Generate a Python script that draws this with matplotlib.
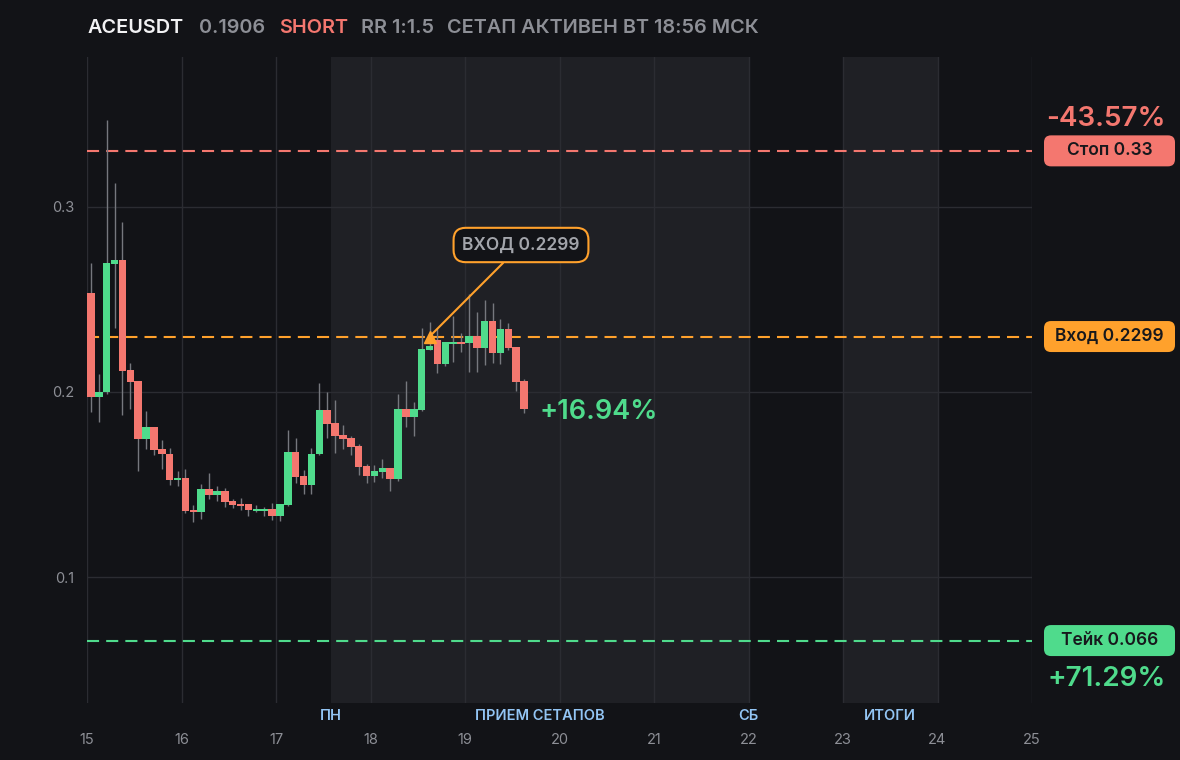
from __future__ import annotations

import matplotlib

matplotlib.use("Agg")
import matplotlib.pyplot as plt
from matplotlib.patches import FancyBboxPatch
from matplotlib.transforms import IdentityTransform, blended_transform_factory

W, H = 1180, 760

BG = "#121317"
PANEL = "#1f2025"
GRID = "#2b2c32"
RED = "#f4776f"
GREEN = "#4fdb8c"
ORANGE = "#ffa12c"
MUTED = "#8d8f96"
WICK = "#76787e"
TITLE_WHITE = "#f2f2f4"
LABEL_BLUE = "#93c5f4"
TAG_TEXT = "#17181c"

FONT = ["Inter", "DejaVu Sans"]

# 2h candles, first one opens on day 15 00:00
START_DAY = 15
CANDLE_DAYS = 2 / 24

opens = [
    0.2534, 0.1975, 0.2000, 0.2690, 0.2712, 0.2119, 0.2059, 0.1748, 0.1811, 0.1693,
    0.1668, 0.1526, 0.1536, 0.1362, 0.1355, 0.1479, 0.1446, 0.1468, 0.1414, 0.1398,
    0.1398, 0.1360, 0.1360, 0.1371, 0.1333, 0.1392, 0.1677, 0.1546, 0.1500, 0.1666,
    0.1903, 0.1833, 0.1768, 0.1752, 0.1709, 0.1601, 0.1547, 0.1569, 0.1590, 0.1531,
    0.1908, 0.1865, 0.1903, 0.2226, 0.2280, 0.2151, 0.2259, 0.2270, 0.2264, 0.2302,
    0.2237, 0.2383, 0.2210, 0.2340, 0.2243, 0.2059,
]
highs = [
    0.2695, 0.2097, 0.3466, 0.3127, 0.2916, 0.2156, 0.2059, 0.1898, 0.1811, 0.1741,
    0.1698, 0.1576, 0.1585, 0.1392, 0.1504, 0.1565, 0.1495, 0.1484, 0.1425, 0.1430,
    0.1398, 0.1392, 0.1382, 0.1403, 0.1398, 0.1795, 0.1752, 0.1580, 0.1698, 0.2049,
    0.2000, 0.1957, 0.1822, 0.1763, 0.1720, 0.1612, 0.1606, 0.1639, 0.1590, 0.1989,
    0.2059, 0.1946, 0.2345, 0.2377, 0.2345, 0.2270, 0.2410, 0.2318, 0.2528, 0.2431,
    0.2496, 0.2480, 0.2394, 0.2372, 0.2243, 0.2070,
]
lows = [
    0.1890, 0.1838, 0.1990, 0.2345, 0.1878, 0.1910, 0.1576, 0.1694, 0.1662, 0.1587,
    0.1500, 0.1495, 0.1349, 0.1301, 0.1317, 0.1425, 0.1414, 0.1382, 0.1376, 0.1366,
    0.1333, 0.1355, 0.1333, 0.1312, 0.1306, 0.1387, 0.1511, 0.1452, 0.1452, 0.1660,
    0.1752, 0.1671, 0.1693, 0.1660, 0.1553, 0.1510, 0.1515, 0.1536, 0.1466, 0.1520,
    0.1811, 0.1763, 0.1900, 0.2226, 0.2102, 0.2140, 0.2162, 0.2216, 0.2108, 0.2108,
    0.2146, 0.2156, 0.2150, 0.2226, 0.2005, 0.1887,
]
closes = [
    0.1975, 0.2000, 0.2695, 0.2712, 0.2115, 0.2054, 0.1748, 0.1811, 0.1689, 0.1667,
    0.1527, 0.1536, 0.1360, 0.1351, 0.1479, 0.1446, 0.1468, 0.1409, 0.1392, 0.1387,
    0.1366, 0.1371, 0.1371, 0.1333, 0.1398, 0.1677, 0.1543, 0.1500, 0.1666, 0.1903,
    0.1827, 0.1763, 0.1747, 0.1704, 0.1596, 0.1547, 0.1574, 0.1590, 0.1531, 0.1908,
    0.1865, 0.1908, 0.2232, 0.2248, 0.2151, 0.2270, 0.2270, 0.2259, 0.2302, 0.2237,
    0.2383, 0.2210, 0.2340, 0.2237, 0.2054, 0.1906,
]

SYMBOL = "ACEUSDT"
LAST_PRICE = "0.1906"
SIDE = "SHORT"
RR_TEXT = "RR 1:1.5"
STATUS = "СЕТАП АКТИВЕН ВТ 18:56 МСК"

STOP = 0.33
ENTRY = 0.2299
TAKE = 0.066
ENTRY_TIME = 18.625
STOP_PCT = "-43.57%"
TAKE_PCT = "+71.29%"
PNL_PCT = "+16.94%"

DAY_TICKS = list(range(15, 26))
Y_TICKS = [0.1, 0.2, 0.3]
SESSION_SPANS = [(17 + 14 / 24, 22.0), (23.0, 24.0)]
SESSION_LABELS = ["ПН", "ПРИЕМ СЕТАПОВ", "СБ", "ИТОГИ"]
SESSION_LABEL_X = [17 + 14 / 24, (17 + 14 / 24 + 22.0) / 2, 22.0, 23.5]


def _draw_candles(ax) -> None:
    times = [START_DAY + i * CANDLE_DAYS for i in range(len(opens))]
    centers = [t + CANDLE_DAYS / 2 for t in times]
    ax.vlines(centers, lows, highs, color=WICK, lw=1, zorder=2)
    min_h = 0.0011
    for t, o, c in zip(times, opens, closes):
        color = GREEN if c >= o else RED
        bottom = min(o, c)
        height = max(abs(c - o), min_h)
        ax.bar(t + CANDLE_DAYS * 0.03, height, bottom=bottom, width=CANDLE_DAYS * 0.94,
               align="edge", color=color, lw=0, zorder=3)


def _right_tag(fig, ax, price: float, text: str, color: str, pct: str, pct_dy: float) -> None:
    _, y_px = ax.transData.transform((START_DAY, price))
    x0, w, h = 1044, 131, 31
    box = FancyBboxPatch(
        (x0, y_px - h / 2), w, h,
        boxstyle="round,pad=0,rounding_size=7",
        transform=IdentityTransform(), fc=color, ec="none", zorder=1,
    )
    fig.patches.append(box)
    fig.text((x0 + w / 2) / W, y_px / H, text, ha="center", va="center",
             color=TAG_TEXT, fontsize=12.5, fontweight="semibold", family=FONT, zorder=10)
    if pct:
        fig.text(1166 / W, (y_px + pct_dy) / H, pct, ha="right", va="center",
                 color=color, fontsize=20, fontweight="semibold", family=FONT, zorder=10)


def main() -> None:
    fig = plt.figure(figsize=(W / 100, H / 100), dpi=100)
    fig.patch.set_facecolor(BG)
    ax = fig.add_axes([87 / W, 57.3 / H, 945 / W, 645.7 / H])
    ax.set_facecolor(BG)

    for x0, x1 in SESSION_SPANS:
        ax.axvspan(x0, x1, color=PANEL, lw=0, zorder=0)

    ax.set_xlim(15, 25)
    ax.set_ylim(0.0325, 0.3806)
    ax.set_xticks(DAY_TICKS)
    ax.set_xticklabels([str(d) for d in DAY_TICKS])
    ax.set_yticks(Y_TICKS)
    ax.set_yticklabels([f"{v:g}" for v in Y_TICKS])
    ax.tick_params(axis="both", length=0, colors=MUTED, labelsize=10.5)
    ax.tick_params(axis="x", pad=22)
    ax.tick_params(axis="y", pad=9)
    for lbl in ax.get_xticklabels() + ax.get_yticklabels():
        lbl.set_family(FONT)
    ax.grid(True, color=GRID, lw=1)
    ax.set_axisbelow(True)
    for spine in ax.spines.values():
        spine.set_visible(False)

    ax.axhline(STOP, color=RED, lw=1.5, dashes=(5.8, 3.4), zorder=1)
    ax.axhline(ENTRY, color=ORANGE, lw=1.5, dashes=(5.8, 3.4), zorder=1)
    ax.axhline(TAKE, color=GREEN, lw=1.5, dashes=(5.8, 3.4), zorder=1)

    _draw_candles(ax)

    trans = blended_transform_factory(ax.transData, ax.transAxes)
    for label, x in zip(SESSION_LABELS, SESSION_LABEL_X):
        ax.text(x, -0.0206, label, transform=trans, ha="center", va="center",
                color=LABEL_BLUE, fontsize=10.5, fontweight="semibold", family=FONT,
                clip_on=False)

    ax.plot(ENTRY_TIME, ENTRY, marker="^", ms=9, color=ORANGE, zorder=6, lw=0)
    ax.annotate(
        f"ВХОД {ENTRY}", xy=(ENTRY_TIME, ENTRY), xytext=(521, H - 245),
        textcoords="figure pixels", ha="center", va="center",
        color="#a3a5ab", fontsize=12.5, fontweight="semibold", family=FONT,
        bbox=dict(boxstyle="round,pad=0.5,rounding_size=0.7", fc=BG, ec=ORANGE, lw=1.5),
        arrowprops=dict(arrowstyle="-", color=ORANGE, lw=1.5, shrinkA=0, shrinkB=0),
        zorder=7,
    )

    last_end = START_DAY + len(closes) * CANDLE_DAYS
    ax.annotate(PNL_PCT, xy=(last_end, closes[-1]), xytext=(8, -2),
                textcoords="offset points", ha="left", va="center",
                color=GREEN, fontsize=19.5, fontweight="semibold", family=FONT)

    _right_tag(fig, ax, STOP, f"Стоп {STOP:g}", RED, STOP_PCT, 32)
    _right_tag(fig, ax, ENTRY, f"Вход {ENTRY:g}", ORANGE, "", 0)
    _right_tag(fig, ax, TAKE, f"Тейк {TAKE:g}", GREEN, TAKE_PCT, -38)

    title_y = 1 - 28 / H
    parts = [
        (88, SYMBOL, TITLE_WHITE, "semibold"),
        (199, LAST_PRICE, MUTED, "semibold"),
        (279, SIDE, RED, "semibold"),
        (361, RR_TEXT, MUTED, "semibold"),
        (447, STATUS, MUTED, "semibold"),
    ]
    for x, text, color, weight in parts:
        fig.text(x / W, title_y, text, ha="left", va="center", color=color,
                 fontsize=14.3, fontweight=weight, family=FONT)

    fig.savefig("out.png", dpi=100, facecolor=BG)
    plt.close(fig)


if __name__ == "__main__":
    main()
